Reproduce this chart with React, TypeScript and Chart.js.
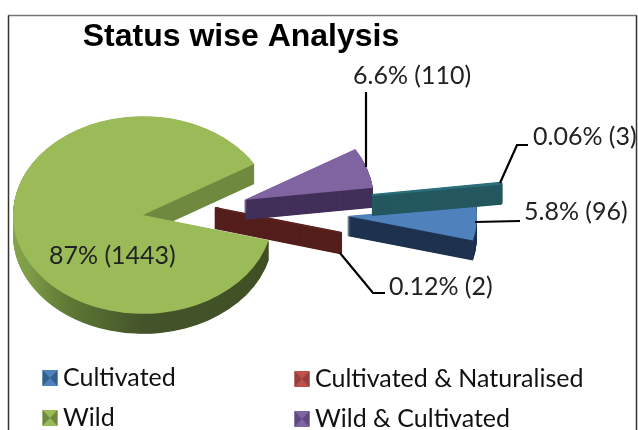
import React, { useEffect, useRef } from "react";
import { Chart, registerables } from "chart.js";

Chart.register(...registerables);

const categories = ["Cultivated", "Cultivated & Naturalised", "Wild", "Wild & Cultivated", "Other"];
const counts = [96, 2, 1443, 110, 3];
const dataLabels = ["5.8% (96)", "0.12% (2)", "87% (1443)", "6.6% (110)", "0.06% (3)"];
const faceColors = ["#4f81bd", "#5a211e", "#9bbb59", "#8064a2", "#2a6f7a"];
const wallColors = ["#1f3350", "#541f1c", "#46572a", "#42305a", "#25585f"];
const legendColors = ["#4f81bd", "#c0504d", "#9bbb59", "#8064a2"];
const legendDark = ["#34608f", "#96403d", "#6f8a40", "#5f4a80"];

const SQUASH = 0.76;
const DEPTH = 20;
const CENTER = { x: 190, y: 208 };
const shifts = [
  { x: 157, y: 8 },
  { x: 25, y: 0 },
  { x: -47, y: 7 },
  { x: 54, y: -8 },
  { x: 182, y: -13 },
];
const thinSlices = [1, 4];
const drawOrder = [2, 0, 1, 3, 4];

const labelPos = [
  { x: 524, y: 212, line: [[475, 222], [520, 221]] },
  { x: 389, y: 287, line: [[340, 253], [373, 293], [385, 293]] },
  { x: 49, y: 256, line: null },
  { x: 353, y: 76, line: [[366, 167], [366, 92]] },
  { x: 533, y: 137, line: [[500, 183], [517, 145], [528, 145]] },
];

const pie3d = {
  id: "pie3d",
  beforeDatasetsDraw(chart: any) {
    const { ctx } = chart;
    const arcs = chart.getDatasetMeta(0).data;
    drawOrder.forEach((i) => {
      const arc = arcs[i];
      const opts = arc.options;
      if (thinSlices.includes(i)) {
        opts.borderWidth = 2.5;
      }
      const paint = (dy: number, color: any) => {
        ctx.save();
        ctx.translate(CENTER.x + shifts[i].x, CENTER.y + shifts[i].y + dy);
        ctx.scale(1, SQUASH);
        ctx.translate(-arc.x, -arc.y);
        opts.backgroundColor = color;
        opts.borderColor = color;
        arc.draw(ctx);
        ctx.restore();
      };
      let wall: any = wallColors[i];
      if (i === 2) {
        wall = ctx.createConicGradient(0, arc.x, arc.y);
        wall.addColorStop(0, "#3f4e22");
        wall.addColorStop(0.25, "#44542a");
        wall.addColorStop(0.35, "#5f7a35");
        wall.addColorStop(0.42, "#7f9c48");
        wall.addColorStop(0.505, "#8aa64f");
        wall.addColorStop(0.505, "#6f8a3f");
        wall.addColorStop(1, "#6f8a3f");
      }
      for (let d = DEPTH; d > 0; d -= 0.5) paint(d, wall);
      paint(0, faceColors[i]);
    });
    return false;
  },
  afterDraw(chart: any) {
    const { ctx, width } = chart;
    ctx.save();
    ctx.lineWidth = 1.5;
    ctx.strokeStyle = "#777";
    ctx.beginPath();
    ctx.moveTo(8, 15.5);
    ctx.lineTo(width - 1, 15.5);
    ctx.stroke();
    ctx.strokeStyle = "#333";
    ctx.beginPath();
    ctx.moveTo(8.5, 430);
    ctx.lineTo(8.5, 15.5);
    ctx.moveTo(width - 1.5, 15.5);
    ctx.lineTo(width - 1.5, 430);
    ctx.stroke();

    ctx.textBaseline = "middle";
    ctx.font = "25px Lato";
    labelPos.forEach((p, i) => {
      ctx.fillStyle = "#222";
      ctx.fillText(dataLabels[i], p.x, p.y);
      if (p.line) {
        ctx.strokeStyle = "#000";
        ctx.lineWidth = 2.2;
        ctx.beginPath();
        p.line.forEach(([x, y], k) => (k ? ctx.lineTo(x, y) : ctx.moveTo(x, y)));
        ctx.stroke();
      }
    });

    const legendPos = [
      [42, 378],
      [294, 379],
      [42, 418],
      [294, 419],
    ];
    legendPos.forEach(([x, y], i) => {
      const l = x + 0.5, t = y - 8, w = 15, h = 16;
      ctx.fillStyle = legendColors[i];
      ctx.fillRect(l, t, w, h);
      ctx.fillStyle = legendDark[i];
      ctx.beginPath();
      ctx.moveTo(l, t);
      ctx.lineTo(l + w / 2, t + h / 2);
      ctx.lineTo(l, t + h);
      ctx.closePath();
      ctx.moveTo(l + w, t);
      ctx.lineTo(l + w / 2, t + h / 2);
      ctx.lineTo(l + w, t + h);
      ctx.closePath();
      ctx.fill();
      ctx.fillStyle = "#111";
      ctx.fillText(categories[i], x + 21, y);
    });
    ctx.restore();
  },
};

export default function App() {
  const ref = useRef<HTMLCanvasElement>(null);
  useEffect(() => {
    document.body.style.margin = "0";
    const chart = new Chart(ref.current!, {
      type: "pie",
      data: {
        labels: categories,
        datasets: [{ data: counts, backgroundColor: faceColors, borderWidth: 0 }],
      },
      options: {
        responsive: false,
        animation: false,
        rotation: 83.5,
        radius: 130,
        layout: { padding: { right: 156, top: 18 } },
        plugins: {
          legend: { display: false },
          tooltip: { enabled: false },
          title: {
            display: true,
            text: "Status wise Analysis",
            color: "#000",
            font: { family: "Liberation Sans", size: 32, weight: "bold" },
            padding: { top: 0, bottom: 0 },
          },
        },
      } as any,
      plugins: [pie3d],
    });
    return () => chart.destroy();
  }, []);
  return <canvas ref={ref} width={638} height={430} style={{ display: "block" }} />;
}
